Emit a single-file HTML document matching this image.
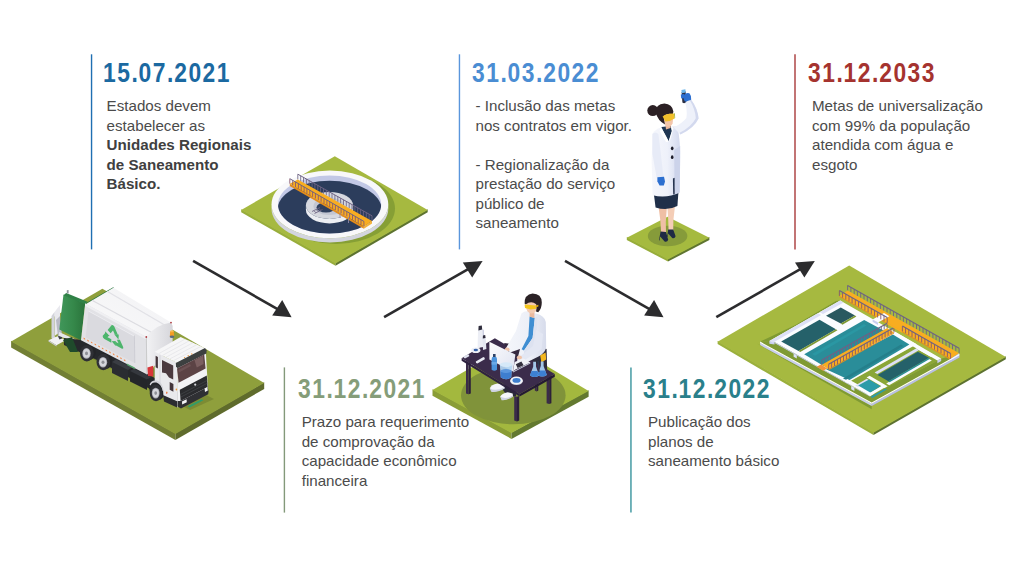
<!DOCTYPE html>
<html lang="pt-BR">
<head>
<meta charset="utf-8">
<title>Marco do Saneamento - Linha do tempo</title>
<style>
html,body{margin:0;padding:0;background:#fff;}
body{width:1024px;height:581px;position:relative;overflow:hidden;font-family:"Liberation Sans",sans-serif;}
.h{position:absolute;font-weight:bold;font-size:27.2px;line-height:26px;white-space:nowrap;transform-origin:0 0;transform:scaleX(0.84);letter-spacing:1.78px;}
.h i{font-style:normal;letter-spacing:1.0px;}
.t{position:absolute;font-size:15.15px;line-height:19.53px;color:#4b4b4b;white-space:nowrap;}
.t b{color:#404040;}
svg{position:absolute;left:0;top:0;}
</style>
</head>
<body>
<!-- illustrations, rules, arrows -->
<svg id="art" width="1024" height="581" viewBox="0 0 1024 581">
<defs>
<g id="arrowDR">
  <line x1="0" y1="0" x2="88" y2="50.3" stroke="#2c2c2e" stroke-width="2.6"/>
  <polygon points="98.5,56.3 89.1,39.1 79.1,54.7" fill="#2c2c2e"/>
</g>
<g id="arrowUR">
  <line x1="0" y1="0" x2="88" y2="-50.3" stroke="#2c2c2e" stroke-width="2.6"/>
  <polygon points="98.5,-56.3 78.7,-54.7 88.1,-39.7" fill="#2c2c2e"/>
</g>
</defs>
<g id="tank">
<polygon points="241.2,209.2 335.5,262.7 335.5,265.8 241.2,212.3" fill="#98ad3b" />
<polygon points="335.5,262.7 427.7,209.2 427.7,212.3 335.5,265.8" fill="#5d7330" />
<polygon points="241.2,209.9 334.8,156.2 427.7,209.9 335.5,263.4" fill="#a6b940" />
<ellipse cx="336.0" cy="208.5" rx="59.0" ry="35.5" fill="#869f35" />
<path d="M271.5,204.4 A58.4,33.8 0 0 0 388.3,204.4 L388.3,208.6 A58.4,33.8 0 0 1 271.5,208.6 Z" fill="#d3d5de"/>
<ellipse cx="329.9" cy="204.4" rx="58.4" ry="33.8" fill="#f8f8fa" />
<clipPath id="tankclip"><ellipse cx="329.6" cy="204.5" rx="51.6" ry="29.0"/></clipPath>
<ellipse cx="329.6" cy="204.5" rx="51.6" ry="29.0" fill="#c2c8e6" />
<g clip-path="url(#tankclip)"><ellipse cx="329.6" cy="209.7" rx="52.1" ry="29.0" fill="#2c3d5c" /></g>
<path d="M305.9,205.4 A23.6,13.5 0 0 0 353.1,205.4 L353.1,209.9 A23.6,13.5 0 0 1 305.9,209.9 Z" fill="#eceef3"/>
<ellipse cx="329.5" cy="205.4" rx="23.6" ry="13.5" fill="#d6d8df" />
<ellipse cx="329.0" cy="206.2" rx="15.5" ry="8.8" fill="#c3c6d2" />
<ellipse cx="326.0" cy="207.4" rx="9.5" ry="5.2" fill="#2f3f5e" />
<line x1="312.0" y1="211.5" x2="320.0" y2="207.5" stroke="#6a6080" stroke-width="0.8" />
<line x1="314.5" y1="213.5" x2="322.5" y2="209.5" stroke="#6a6080" stroke-width="0.8" />
<line x1="313.6" y1="210.7" x2="316.1" y2="212.7" stroke="#6a6080" stroke-width="0.7" />
<line x1="316.0" y1="209.5" x2="318.5" y2="211.5" stroke="#6a6080" stroke-width="0.7" />
<line x1="318.4" y1="208.3" x2="320.9" y2="210.3" stroke="#6a6080" stroke-width="0.7" />
<line x1="297.8" y1="179.4" x2="297.8" y2="174.2" stroke="#6d6384" stroke-width="0.85" />
<line x1="300.7" y1="181.0" x2="300.7" y2="175.8" stroke="#6d6384" stroke-width="0.85" />
<line x1="303.5" y1="182.6" x2="303.5" y2="177.4" stroke="#6d6384" stroke-width="0.85" />
<line x1="306.4" y1="184.2" x2="306.4" y2="179.0" stroke="#6d6384" stroke-width="0.85" />
<line x1="309.2" y1="185.8" x2="309.2" y2="180.6" stroke="#6d6384" stroke-width="0.85" />
<line x1="312.1" y1="187.4" x2="312.1" y2="182.2" stroke="#6d6384" stroke-width="0.85" />
<line x1="314.9" y1="189.0" x2="314.9" y2="183.8" stroke="#6d6384" stroke-width="0.85" />
<line x1="317.8" y1="190.6" x2="317.8" y2="185.4" stroke="#6d6384" stroke-width="0.85" />
<line x1="320.6" y1="192.2" x2="320.6" y2="187.0" stroke="#6d6384" stroke-width="0.85" />
<line x1="323.5" y1="193.8" x2="323.5" y2="188.6" stroke="#6d6384" stroke-width="0.85" />
<line x1="326.3" y1="195.4" x2="326.3" y2="190.2" stroke="#6d6384" stroke-width="0.85" />
<line x1="329.2" y1="197.0" x2="329.2" y2="191.8" stroke="#6d6384" stroke-width="0.85" />
<line x1="332.0" y1="198.6" x2="332.0" y2="193.4" stroke="#6d6384" stroke-width="0.85" />
<line x1="334.9" y1="200.2" x2="334.9" y2="195.0" stroke="#6d6384" stroke-width="0.85" />
<line x1="337.8" y1="201.8" x2="337.8" y2="196.6" stroke="#6d6384" stroke-width="0.85" />
<line x1="340.6" y1="203.4" x2="340.6" y2="198.2" stroke="#6d6384" stroke-width="0.85" />
<line x1="343.5" y1="205.0" x2="343.5" y2="199.8" stroke="#6d6384" stroke-width="0.85" />
<line x1="346.3" y1="206.6" x2="346.3" y2="201.4" stroke="#6d6384" stroke-width="0.85" />
<line x1="349.2" y1="208.2" x2="349.2" y2="203.0" stroke="#6d6384" stroke-width="0.85" />
<line x1="352.0" y1="209.8" x2="352.0" y2="204.6" stroke="#6d6384" stroke-width="0.85" />
<line x1="354.9" y1="211.4" x2="354.9" y2="206.2" stroke="#6d6384" stroke-width="0.85" />
<line x1="357.7" y1="213.0" x2="357.7" y2="207.8" stroke="#6d6384" stroke-width="0.85" />
<line x1="360.6" y1="214.6" x2="360.6" y2="209.4" stroke="#6d6384" stroke-width="0.85" />
<line x1="363.4" y1="216.2" x2="363.4" y2="211.0" stroke="#6d6384" stroke-width="0.85" />
<line x1="366.3" y1="217.8" x2="366.3" y2="212.6" stroke="#6d6384" stroke-width="0.85" />
<line x1="369.1" y1="219.4" x2="369.1" y2="214.2" stroke="#6d6384" stroke-width="0.85" />
<line x1="372.0" y1="221.0" x2="372.0" y2="215.8" stroke="#6d6384" stroke-width="0.85" />
<line x1="297.8" y1="174.2" x2="372.0" y2="215.8" stroke="#6d6384" stroke-width="1.0" />
<polygon points="297.8,179.4 372.0,221.0 363.9,226.4 289.8,183.7" fill="#f8ad20" />
<polygon points="289.8,183.7 363.9,226.4 363.9,228.8 289.8,186.1" fill="#e38c1a" />
<polygon points="372.0,221.0 363.9,226.4 363.9,228.8 372.0,223.4" fill="#f3b23a" />
<line x1="289.8" y1="183.7" x2="289.8" y2="178.7" stroke="#85546c" stroke-width="0.85" />
<line x1="292.7" y1="185.3" x2="292.7" y2="180.3" stroke="#85546c" stroke-width="0.85" />
<line x1="295.5" y1="187.0" x2="295.5" y2="182.0" stroke="#85546c" stroke-width="0.85" />
<line x1="298.4" y1="188.6" x2="298.4" y2="183.6" stroke="#85546c" stroke-width="0.85" />
<line x1="301.2" y1="190.3" x2="301.2" y2="185.3" stroke="#85546c" stroke-width="0.85" />
<line x1="304.1" y1="191.9" x2="304.1" y2="186.9" stroke="#85546c" stroke-width="0.85" />
<line x1="306.9" y1="193.6" x2="306.9" y2="188.6" stroke="#85546c" stroke-width="0.85" />
<line x1="309.8" y1="195.2" x2="309.8" y2="190.2" stroke="#85546c" stroke-width="0.85" />
<line x1="312.6" y1="196.8" x2="312.6" y2="191.8" stroke="#85546c" stroke-width="0.85" />
<line x1="315.4" y1="198.5" x2="315.4" y2="193.5" stroke="#85546c" stroke-width="0.85" />
<line x1="318.3" y1="200.1" x2="318.3" y2="195.1" stroke="#85546c" stroke-width="0.85" />
<line x1="321.1" y1="201.8" x2="321.1" y2="196.8" stroke="#85546c" stroke-width="0.85" />
<line x1="324.0" y1="203.4" x2="324.0" y2="198.4" stroke="#85546c" stroke-width="0.85" />
<line x1="326.9" y1="205.1" x2="326.9" y2="200.1" stroke="#85546c" stroke-width="0.85" />
<line x1="329.7" y1="206.7" x2="329.7" y2="201.7" stroke="#85546c" stroke-width="0.85" />
<line x1="332.6" y1="208.3" x2="332.6" y2="203.3" stroke="#85546c" stroke-width="0.85" />
<line x1="335.4" y1="210.0" x2="335.4" y2="205.0" stroke="#85546c" stroke-width="0.85" />
<line x1="338.2" y1="211.6" x2="338.2" y2="206.6" stroke="#85546c" stroke-width="0.85" />
<line x1="341.1" y1="213.3" x2="341.1" y2="208.3" stroke="#85546c" stroke-width="0.85" />
<line x1="343.9" y1="214.9" x2="343.9" y2="209.9" stroke="#85546c" stroke-width="0.85" />
<line x1="346.8" y1="216.5" x2="346.8" y2="211.5" stroke="#85546c" stroke-width="0.85" />
<line x1="349.6" y1="218.2" x2="349.6" y2="213.2" stroke="#85546c" stroke-width="0.85" />
<line x1="352.5" y1="219.8" x2="352.5" y2="214.8" stroke="#85546c" stroke-width="0.85" />
<line x1="355.3" y1="221.5" x2="355.3" y2="216.5" stroke="#85546c" stroke-width="0.85" />
<line x1="358.2" y1="223.1" x2="358.2" y2="218.1" stroke="#85546c" stroke-width="0.85" />
<line x1="361.0" y1="224.8" x2="361.0" y2="219.8" stroke="#85546c" stroke-width="0.85" />
<line x1="363.9" y1="226.4" x2="363.9" y2="221.4" stroke="#85546c" stroke-width="0.85" />
<line x1="289.8" y1="178.7" x2="363.9" y2="221.4" stroke="#6d6384" stroke-width="1.0" />
<line x1="348.5" y1="217.5" x2="348.5" y2="223.0" stroke="#8d86a3" stroke-width="0.9" />
<line x1="340.0" y1="213.0" x2="340.0" y2="218.0" stroke="#8d86a3" stroke-width="0.8" />
</g>
<g id="truck">
<defs><linearGradient id="hopg" x1="0" y1="0" x2="1" y2="0"><stop offset="0" stop-color="#40975a"/><stop offset="0.55" stop-color="#35884a"/><stop offset="1" stop-color="#2a733b"/></linearGradient><linearGradient id="bodytop" x1="0" y1="1" x2="1" y2="0"><stop offset="0" stop-color="#e4e4e7"/><stop offset="0.25" stop-color="#f7f7f8"/><stop offset="0.7" stop-color="#f4f4f6"/><stop offset="1" stop-color="#e2e2e6"/></linearGradient><linearGradient id="bodyfront" x1="0" y1="0" x2="1" y2="0"><stop offset="0" stop-color="#f2f2f4"/><stop offset="1" stop-color="#d6d6db"/></linearGradient></defs>
<polygon points="11.1,340.7 175.4,433.3 175.4,440.0 11.1,347.4" fill="#727f34" />
<polygon points="175.4,433.3 264.2,382.3 264.2,389.0 175.4,440.0" fill="#5f6b2c" />
<polygon points="11.1,341.4 102.4,288.8 264.2,383.0 175.4,434.0" fill="#8f9f3c" />
<polygon points="62.0,343.0 84.0,333.0 214.0,399.0 190.0,410.0" fill="#7c8b34" />
<polygon points="54.5,312.0 60.0,305.0 60.0,332.0 54.5,336.0" fill="#e9e9ee" />
<polygon points="51.5,316.0 54.5,312.0 54.5,336.0 58.0,340.0 55.0,342.0 51.5,338.0" fill="#d2d3da" />
<polygon points="56.0,320.0 60.0,316.0 62.0,335.0 58.0,337.0" fill="#b9bbc6" />
<polygon points="48.5,340.3 57.5,336.2 65.5,340.2 56.5,345.3" fill="#f1f1f4" />
<polygon points="48.5,340.3 56.5,345.3 56.5,346.6 48.5,341.6" fill="#c9cad2" />
<polygon points="58.0,336.5 62.0,334.5 62.0,338.5 59.5,339.5" fill="#3a3c42" />
<polygon points="59.0,332.0 80.0,341.5 80.0,344.0 59.0,336.0" fill="#e5e6ea" />
<polygon points="64.0,338.0 82.0,340.0 148.0,374.0 178.0,392.0 178.0,404.0 150.0,389.0 96.0,359.5 64.0,345.0" fill="#26282c" />
<polygon points="63.0,340.0 72.0,337.0 78.0,352.0 70.0,352.0" fill="#1f4a2b" />
<ellipse cx="89.0" cy="352.0" rx="6.8" ry="8.3" fill="#232428" />
<ellipse cx="86.8" cy="353.2" rx="6.8" ry="8.3" fill="#2f3035" />
<ellipse cx="86.5" cy="353.4" rx="4.2" ry="5.3" fill="#a9aab3" />
<ellipse cx="86.5" cy="353.4" rx="3.4" ry="4.3" fill="#d6d7dd" />
<ellipse cx="86.5" cy="353.4" rx="1.5" ry="1.8" fill="#8f9097" />
<ellipse cx="105.5" cy="360.8" rx="6.8" ry="8.3" fill="#232428" />
<ellipse cx="103.3" cy="362.0" rx="6.8" ry="8.3" fill="#2f3035" />
<ellipse cx="103.0" cy="362.2" rx="4.2" ry="5.3" fill="#a9aab3" />
<ellipse cx="103.0" cy="362.2" rx="3.4" ry="4.3" fill="#d6d7dd" />
<ellipse cx="103.0" cy="362.2" rx="1.5" ry="1.8" fill="#8f9097" />
<polygon points="112.0,362.0 128.0,370.0 128.0,381.0 112.0,373.0" fill="#2a2c31" />
<polygon points="112.0,362.0 116.0,359.5 132.0,367.5 128.0,370.0" fill="#3a3d43" />
<polygon points="130.0,371.0 147.0,379.5 147.0,390.0 130.0,381.5" fill="#24262a" />
<polygon points="130.0,371.0 134.0,368.8 151.0,377.2 147.0,379.5" fill="#35383e" />
<polygon points="63.5,294.5 85.2,303.5 81.0,340.2 59.3,329.4" fill="url(#hopg)" />
<polygon points="63.5,295.2 66.2,292.9 87.5,301.8 85.2,304.2" fill="#2f8146" />
<polygon points="85.2,303.5 113.2,287.2 114.0,288.0 86.2,304.3" fill="#2d7a40" />
<polygon points="66.8,290.2 68.6,290.0 68.6,293.6 66.8,293.2" fill="#8d9399" />
<polygon points="85.2,304.6 113.5,287.8 171.1,322.4 146.2,338.2" fill="url(#bodytop)" />
<line x1="92.0" y1="300.2" x2="153.0" y2="333.3" stroke="#dcdce1" stroke-width="1.2" />
<line x1="107.5" y1="291.5" x2="165.5" y2="325.6" stroke="#e1e1e6" stroke-width="1.2" />
<polygon points="85.2,303.5 146.2,337.0 147.0,374.5 81.0,340.2" fill="#e2e2e6" />
<polygon points="85.2,303.5 146.2,337.0 146.2,339.4 85.0,305.8" fill="#efeff2" />
<polygon points="88.6,310.5 134.2,335.6 134.6,363.0 85.6,337.2" fill="#dadadf" />
<polygon points="88.6,310.5 134.2,335.6 134.2,336.6 88.5,311.5" fill="#ededf1" />
<line x1="134.4" y1="335.6" x2="134.8" y2="363.0" stroke="#c9c9d0" stroke-width="0.8" />
<rect x="83.6" y="338.0" width="1.5" height="1.3" fill="#f08a4a" transform="skewY(28)" style="transform-box:fill-box;transform-origin:center"/>
<rect x="87.3" y="340.0" width="1.5" height="1.3" fill="#f08a4a" transform="skewY(28)" style="transform-box:fill-box;transform-origin:center"/>
<rect x="90.9" y="341.9" width="1.5" height="1.3" fill="#f08a4a" transform="skewY(28)" style="transform-box:fill-box;transform-origin:center"/>
<rect x="94.6" y="343.9" width="1.5" height="1.3" fill="#f08a4a" transform="skewY(28)" style="transform-box:fill-box;transform-origin:center"/>
<rect x="98.3" y="345.9" width="1.5" height="1.3" fill="#f08a4a" transform="skewY(28)" style="transform-box:fill-box;transform-origin:center"/>
<rect x="101.9" y="347.8" width="1.5" height="1.3" fill="#f08a4a" transform="skewY(28)" style="transform-box:fill-box;transform-origin:center"/>
<rect x="105.6" y="349.8" width="1.5" height="1.3" fill="#f08a4a" transform="skewY(28)" style="transform-box:fill-box;transform-origin:center"/>
<rect x="109.2" y="351.7" width="1.5" height="1.3" fill="#f08a4a" transform="skewY(28)" style="transform-box:fill-box;transform-origin:center"/>
<rect x="112.9" y="353.7" width="1.5" height="1.3" fill="#f08a4a" transform="skewY(28)" style="transform-box:fill-box;transform-origin:center"/>
<rect x="116.6" y="355.7" width="1.5" height="1.3" fill="#f08a4a" transform="skewY(28)" style="transform-box:fill-box;transform-origin:center"/>
<rect x="120.2" y="357.6" width="1.5" height="1.3" fill="#f08a4a" transform="skewY(28)" style="transform-box:fill-box;transform-origin:center"/>
<rect x="123.9" y="359.6" width="1.5" height="1.3" fill="#f08a4a" transform="skewY(28)" style="transform-box:fill-box;transform-origin:center"/>
<polygon points="126.8,363.4 134.8,367.6 134.8,369.2 126.8,365.0" fill="#5aa770" />
<g transform="translate(113.0,335.6) skewY(29) scale(0.84)" fill="none" stroke="#4db56c" stroke-width="4.1" stroke-linejoin="round" stroke-linecap="butt"><path d="M-4.6,-2.2 L0,-10.2 L4.0,-3.2"/><path d="M6.4,1.4 L10.2,7.6 L2.6,7.6"/><path d="M-2.0,7.6 L-10.2,7.6 L-6.8,1.8"/><g fill="#4db56c" stroke="none"><path d="M1.6,-2.2 L6.8,-5.0 L6.6,1.0 Z"/><path d="M3.2,4.6 L3.2,10.6 L-1.6,7.6 Z"/><path d="M-9.6,0.0 L-4.0,2.6 L-8.6,5.4 Z"/></g></g>
<path d="M146.2,337.0 Q155.5,324.4 171.1,322.4 L172.6,326 L172.6,345 L147.0,374.5 Z" fill="url(#bodyfront)"/>
<line x1="146.3" y1="337.2" x2="147.0" y2="374.3" stroke="#c8c8ce" stroke-width="0.9" />
<ellipse cx="146.3" cy="337.0" rx="0.9" ry="0.9" fill="#b03a3f" />
<ellipse cx="171.0" cy="322.6" rx="0.9" ry="0.9" fill="#b03a3f" />
<polygon points="147.4,367.6 153.2,365.8 153.2,376.6 148.0,376.0" fill="#d8363a" />
<polygon points="170.2,331.2 173.8,331.2 174.2,336.6 169.8,336.6" fill="#f59d22" />
<ellipse cx="172.0" cy="331.2" rx="1.8" ry="1.0" fill="#f8b94a" />
<ellipse cx="172.0" cy="336.8" rx="2.3" ry="1.2" fill="#5c6b7a" />
<polygon points="147.0,379.0 158.0,379.0 165.0,388.0 165.0,396.0 150.0,392.0" fill="#25272b" />
<ellipse cx="158.2" cy="391.7" rx="6.3" ry="8.4" fill="#232428" />
<ellipse cx="156.0" cy="392.9" rx="6.3" ry="8.4" fill="#2f3035" />
<ellipse cx="155.7" cy="393.1" rx="3.9" ry="5.4" fill="#a9aab3" />
<ellipse cx="155.7" cy="393.1" rx="3.1" ry="4.4" fill="#d6d7dd" />
<ellipse cx="155.7" cy="393.1" rx="1.4" ry="1.8" fill="#8f9097" />
<polygon points="163.0,394.8 177.1,401.0 177.1,407.6 164.0,401.4" fill="#2b2c30" />
<polygon points="154.7,351.7 177.1,362.7 177.1,401.2 163.4,395.2 163.0,389.5 160.4,384.0 156.4,381.4 154.7,381.0" fill="#e9e9ec" />
<ellipse cx="166.7" cy="392.9" rx="0.7" ry="0.8" fill="#e0474a" />
<path d="M149.6,384.6 Q151.4,379.6 157.0,380.6 Q162.6,382.2 163.6,391.0 L162.6,391.0 Q161.4,384.4 156.4,382.6 Q152.0,381.6 150.6,385.4 Z" fill="#d4d4da"/>
<polygon points="177.1,362.7 205.6,348.6 208.1,390.9 177.1,407.5" fill="#f2f2f4" />
<polygon points="154.7,351.7 180.6,337.0 205.6,348.4 177.1,362.9" fill="#f6f6f7" />
<line x1="158.7" y1="353.7" x2="185.1" y2="339.1" stroke="#e2e2e6" stroke-width="0.7" />
<line x1="162.3" y1="355.5" x2="189.1" y2="340.9" stroke="#e2e2e6" stroke-width="0.7" />
<line x1="165.9" y1="357.3" x2="193.1" y2="342.7" stroke="#e2e2e6" stroke-width="0.7" />
<line x1="169.5" y1="359.1" x2="197.1" y2="344.5" stroke="#e2e2e6" stroke-width="0.7" />
<line x1="173.1" y1="360.9" x2="201.1" y2="346.3" stroke="#e2e2e6" stroke-width="0.7" />
<ellipse cx="184.6" cy="357.6" rx="0.7" ry="0.7" fill="#f0963c" />
<ellipse cx="188.2" cy="355.8" rx="0.7" ry="0.7" fill="#f0963c" />
<ellipse cx="191.8" cy="354.0" rx="0.7" ry="0.7" fill="#f0963c" />
<polygon points="175.8,362.9 205.0,348.0 206.6,350.2 206.4,353.4 177.6,368.2 176.0,366.4" fill="#3c4040" />
<polygon points="177.0,368.6 204.2,354.4 205.6,368.4 178.6,382.8" fill="#5c4345" />
<polygon points="194.5,360.2 203.0,355.8 203.6,364.0 196.8,367.6" fill="#7b5f60" />
<polygon points="178.4,370.0 190.0,364.0 191.0,366.0 179.0,372.4" fill="#6c5254" />
<polygon points="179.8,389.8 206.8,375.6 207.6,387.0 180.6,401.0" fill="#2a2b2e" />
<polygon points="177.6,401.0 180.6,401.0 207.6,387.0 208.6,391.0 208.2,394.2 181.0,408.4 177.4,406.6" fill="#2f3034" />
<line x1="181.0" y1="394.2" x2="207.2" y2="380.4" stroke="#44464b" stroke-width="0.7" />
<line x1="181.0" y1="397.0" x2="207.4" y2="383.2" stroke="#44464b" stroke-width="0.7" />
<ellipse cx="195.2" cy="384.6" rx="1.0" ry="1.2" fill="#d9dade" />
<polygon points="182.0,401.6 186.6,399.2 186.8,402.2 182.2,404.6" fill="#f4f4f6" />
<polygon points="204.6,388.6 207.4,387.0 207.8,390.4 205.0,392.0" fill="#f4f4f6" />
<polygon points="162.0,360.0 173.2,365.6 173.2,379.6 169.0,377.4 166.0,373.2 162.0,372.6" fill="#4b3a3f" />
<polygon points="155.6,355.8 157.9,357.0 157.9,368.4 155.6,367.2" fill="#43353a" />
<polygon points="169.7,382.0 173.4,384.0 173.4,391.8 169.7,389.8" fill="#43353a" />
<line x1="160.0" y1="355.2" x2="160.0" y2="383.0" stroke="#cfcfd5" stroke-width="0.7" />
<ellipse cx="176.4" cy="389.6" rx="0.8" ry="1.0" fill="#f0963c" />
<ellipse cx="166.8" cy="392.4" rx="0.6" ry="0.8" fill="#f0963c" />
<polygon points="187.6,406.2 201.6,399.2 203.4,400.2 189.6,407.4" fill="#2f9c6a" />
</g>
<g id="desk">
<defs><linearGradient id="coatg" x1="0" y1="0" x2="1" y2="0"><stop offset="0" stop-color="#f4f6fb"/><stop offset="0.6" stop-color="#eceff7"/><stop offset="1" stop-color="#d6dbeb"/></linearGradient><linearGradient id="lapg" x1="0" y1="0" x2="1" y2="1"><stop offset="0" stop-color="#fbfbfd"/><stop offset="1" stop-color="#dfe3f1"/></linearGradient></defs>
<polygon points="432.5,389.2 511.5,432.4 511.5,438.9 432.5,395.7" fill="#8a9d36" />
<polygon points="511.5,432.4 588.6,390.2 588.6,396.7 511.5,438.9" fill="#637930" />
<polygon points="432.5,389.9 510.6,344.6 588.6,390.9 511.5,433.1" fill="#a3b83e" />
<ellipse cx="513.3" cy="395.3" rx="52.3" ry="29.0" fill="#80933a" />
<polygon points="534.0,345.0 546.6,349.0 547.2,372.0 535.0,382.0 528.0,378.0" fill="#2d2b3c" />
<polygon points="534.8,378.0 536.7,378.8 536.7,391.5 534.8,390.6" fill="#3a2b49" /><polygon points="536.7,378.8 538.3,378.0 538.3,390.6 536.7,391.5" fill="#2c2039" />
<polygon points="546.6,375.0 549.2,375.8 549.2,404.1 546.6,403.2" fill="#3a2b49" /><polygon points="549.2,375.8 551.4,375.0 551.4,403.2 549.2,404.1" fill="#2c2039" />
<polygon points="505.0,381.0 516.0,386.0 516.0,396.0 508.0,397.0 503.0,390.0" fill="#2b2a3a" />
<path d="M489.8,388.2 Q491,384.6 497.5,383.4 L503.6,384.4 L505,387.2 Q499,391.4 492.2,391.6 Z" fill="#f5f6fa"/>
<path d="M500.2,396.6 Q501.6,393.4 507.6,392.2 L512.6,393.4 L513.0,395.8 Q507.8,399.8 502.2,399.8 Z" fill="#f5f6fa"/>
<path d="M489.8,388.2 Q495,391.8 505,387.2 L505,388.2 Q498,392.8 491.2,391.8 Z" fill="#cfd3e2"/>
<path d="M500.2,396.6 Q505,399.6 513,395.8 L513,396.8 Q507,400.8 501.6,400.2 Z" fill="#cfd3e2"/>
<polygon points="466.0,361.0 468.6,361.8 468.6,394.3 466.0,393.4" fill="#3a2b49" /><polygon points="468.6,361.8 470.8,361.0 470.8,393.4 468.6,394.3" fill="#2c2039" />
<polygon points="461.6,358.2 519.7,394.0 519.7,396.6 461.6,360.8" fill="#2e2240" />
<polygon points="519.7,394.0 554.8,374.1 554.8,376.7 519.7,396.6" fill="#241a33" />
<polygon points="461.6,358.2 494.9,338.3 554.8,374.1 519.7,394.0" fill="#3b2c4b" />
<polygon points="514.2,396.0 517.0,396.8 517.0,421.5 514.2,420.6" fill="#3a2b49" /><polygon points="517.0,396.8 519.2,396.0 519.2,420.6 517.0,421.5" fill="#2c2039" />
<polygon points="504.0,343.0 523.0,345.0 526.0,358.0 511.0,357.0" fill="#34283f" />
<path d="M521.4,313.4 Q526,309.6 531.5,312.6 L536,313.6 Q544.6,315.8 545.8,322 L546.2,347 Q545.4,353 538.5,356.5 L523,364.2 L517,360.5 L520,349 L510,352.5 L506,348 L516,331 Z" fill="url(#coatg)"/>
<polygon points="529.6,316.6 534.8,318.0 532.6,338.0 524.0,350.6 521.6,349.2 528.4,336.0" fill="#3f8ed2" />
<polygon points="534.8,318.0 537.6,316.4 536.4,340.0 531.6,352.0 524.0,355.6 524.0,350.6 532.6,338.0" fill="#dde2f0" />
<polygon points="529.6,311.0 534.4,312.0 534.4,318.0 529.6,316.8" fill="#eab99f" />
<ellipse cx="531.6" cy="306.6" rx="5.6" ry="7.0" fill="#f3cbb2" />
<path d="M524.6,303.6 Q524.2,294.4 532.6,293.4 Q541.6,293.6 541.8,302.4 Q541.8,308.6 538.2,312.2 L536.0,311.6 Q537.0,307.6 536.2,304.2 Q531,300.2 525.6,304.6 Z" fill="#2b2226"/>
<polygon points="524.6,304.4 535.4,305.4 536.2,308.8 530.6,309.4 525.0,308.0" fill="#f4c51c" />
<polygon points="535.4,305.4 538.4,304.8 538.4,306.4 536.0,307.4" fill="#d9a614" />
<path d="M536,330 L543,334 L541.5,349 L525,360.0 L519.5,357.0 L533,346 Z" fill="#e3e7f3"/>
<polygon points="540.2,355.6 545.6,352.6 546.2,359.6 541.4,362.4" fill="#f4b71f" />
<ellipse cx="519.4" cy="357.4" rx="2.6" ry="2.0" fill="#f0c3a8" />
<ellipse cx="507.2" cy="349.4" rx="2.4" ry="1.8" fill="#f0c3a8" />
<polygon points="489.4,341.7 515.4,354.6 513.0,371.4 489.4,359.6" fill="url(#lapg)" />
<polygon points="513.0,371.4 515.4,369.6 530.4,362.6 523.4,358.6 514.6,362.0" fill="#f1f2f8" />
<polygon points="515.8,364.2 521.4,361.6 523.6,365.2 517.6,368.0" fill="#34303f" />
<polygon points="513.0,371.4 530.4,362.6 530.4,363.6 513.0,372.6" fill="#c9cede" />
<polygon points="478.0,330.0 482.4,329.0 483.2,347.0 477.6,348.0" fill="#eceef5" />
<polygon points="482.4,329.0 483.8,330.0 484.6,346.4 483.2,347.0" fill="#c8cce0" />
<polygon points="478.6,326.0 481.8,325.4 482.2,329.6 478.4,330.4" fill="#2f2d3c" />
<polygon points="482.6,338.0 485.6,337.2 486.4,349.0 483.0,350.0" fill="#e4e7f1" />
<polygon points="483.0,335.4 485.2,335.0 485.6,338.0 482.8,338.6" fill="#2f2d3c" />
<ellipse cx="475.8" cy="350.2" rx="4.6" ry="2.8" fill="#eef0f6" />
<ellipse cx="475.8" cy="350.0" rx="2.2" ry="1.3" fill="#3a63a8" />
<path d="M475.8,361.6 L483.4,357.0 Q485.2,357.2 484.8,359.2 L477.4,363.6 Q475.6,363.4 475.8,361.6 Z" fill="#e8eaf3"/>
<path d="M463.6,356.6 L468,354.2 Q469.6,354.6 469.2,356.2 L465,358.6 Q463.4,358.2 463.6,356.6 Z" fill="#dfe2ee"/>
<path d="M491.6,359.4 Q491.6,357.2 493.0,356.8 L495.6,356.8 Q497.0,357.2 497.0,359.4 L497.0,369.8 Q494.4,371.6 491.6,369.8 Z" fill="#4b93dc"/>
<polygon points="493.0,354.0 495.6,354.0 495.6,357.0 493.0,357.0" fill="#2d4268" />
<polygon points="491.6,362.0 497.0,362.0 497.0,364.6 491.6,364.6" fill="#6aa8e6" />
<path d="M499.8,364.6 L512.2,364.6 L511.2,377.6 Q506,380.8 500.8,377.6 Z" fill="#b5d6f2" fill-opacity="0.92"/>
<path d="M500.4,371.0 Q506,373.4 511.6,371.0 L511.2,377.6 Q506,380.8 500.8,377.6 Z" fill="#3e7ecf"/>
<ellipse cx="506.0" cy="364.6" rx="6.2" ry="2.4" fill="#d5e8f8" />
<ellipse cx="506.0" cy="371.0" rx="5.6" ry="1.9" fill="#5c97dd" />
<ellipse cx="516.5" cy="381.2" rx="6.2" ry="3.9" fill="#cdd2e2" />
<ellipse cx="516.5" cy="380.4" rx="6.2" ry="3.9" fill="#f3f4f9" />
<ellipse cx="516.5" cy="380.4" rx="4.0" ry="2.4" fill="#3f7fd0" />
<path d="M533.2,361.8 L536.0,361.8 L536.0,366.4 L539.2,375.4 Q534.6,378.6 530.0,375.4 L533.2,366.4 Z" fill="#a9cff0" fill-opacity="0.95"/>
<path d="M531.6,371.0 L537.6,371.0 L539.2,375.4 Q534.6,378.6 530.0,375.4 Z" fill="#3d80d2"/>
<path d="M540.8000000000001,361.40000000000003 L543.6,361.40000000000003 L543.6,366.0 L546.8000000000001,375.0 Q542.2,378.20000000000005 537.6,375.0 L540.8000000000001,366.0 Z" fill="#a9cff0" fill-opacity="0.95"/>
<path d="M539.2,370.6 L545.2,370.6 L546.8000000000001,375.0 Q542.2,378.20000000000005 537.6,375.0 Z" fill="#3d80d2"/>
<line x1="538.0" y1="361.0" x2="539.2" y2="372.0" stroke="#2d3e5c" stroke-width="0.9" />
</g>
<g id="woman">
<defs><linearGradient id="wcoat" x1="0" y1="0" x2="1" y2="0"><stop offset="0" stop-color="#f6f7fc"/><stop offset="0.55" stop-color="#eef1fa"/><stop offset="1" stop-color="#d3d9ee"/></linearGradient></defs>
<polygon points="626.8,237.0 668.0,258.7 668.0,261.6 626.8,239.9" fill="#97ad3a" />
<polygon points="668.0,258.7 709.4,237.0 709.4,239.9 668.0,261.6" fill="#5f7530" />
<polygon points="626.8,237.7 667.5,216.7 709.4,237.7 668.0,259.4" fill="#a5ba3f" />
<ellipse cx="667.6" cy="236.0" rx="19.8" ry="10.2" fill="#869b3a" />
<path d="M658.6,207 L666.8,208 L665.8,222 L666.0,233.4 L661.2,233.4 L660.4,221 Z" fill="#efbfa5"/>
<path d="M667.4,207 L675.0,206 L673.4,220 L673.2,231 L668.6,231 L668.2,219 Z" fill="#f4cdb6"/>
<path d="M660.6,231.6 L666.0,232.0 L668.2,239.8 Q667.4,242.4 664.6,241.6 L660.2,236.4 L659.6,240.4 L659.0,240.2 Z" fill="#1f2a44"/>
<path d="M668.2,229.4 L673.2,229.6 L675.6,236.2 Q674.8,238.8 672.2,238.0 L668.2,233.6 L667.8,237.0 L667.2,236.8 Z" fill="#1f2a44"/>
<path d="M653.9,194.6 L678.4,192.6 L677.4,206.0 Q667,211.4 655.6,207.4 Z" fill="#1f2f49"/>
<path d="M652.6,133.4 Q655,129.6 661.0,127.6 L672.6,126.6 L677.4,126.4 Q680.4,140 680.2,160 L679.6,192.4 Q667,198.6 652.6,195.2 L651.6,160 Z" fill="url(#wcoat)"/>
<path d="M674.2,150 L680.2,146 L679.6,192.4 L674.6,194.2 Z" fill="#ccd3ea"/>
<polygon points="672.9,178.4 674.6,177.8 674.7,194.3 673.2,194.4" fill="#26334f" />
<polygon points="661.4,127.0 670.6,126.0 672.0,131.0 668.6,141.2 664.6,134.0" fill="#1f3652" />
<polygon points="660.8,127.2 664.8,133.8 668.8,141.6 666.0,142.0 659.6,131.0" fill="#ffffff" />
<polygon points="671.0,126.0 673.4,128.0 670.6,139.0 668.7,141.4 671.8,131.0" fill="#ffffff" />
<ellipse cx="672.2" cy="148.3" rx="1.3" ry="1.9" fill="#1d1d2b" />
<ellipse cx="672.2" cy="157.2" rx="1.3" ry="1.9" fill="#1d1d2b" />
<path d="M652.4,134.0 Q655.4,131.0 658.4,134.0 L660.4,150 L663.6,177.4 L656.8,178.2 L652.4,154 Z" fill="#e7ebf7"/>
<path d="M657.4,177.2 L664.0,176.8 L665.0,181.4 L663.8,185.6 L659.6,185.6 L657.4,181.4 Z" fill="#2c6fd0"/>
<polygon points="665.0,122.0 670.6,121.4 670.6,128.0 666.0,129.4" fill="#eab79c" />
<path d="M663.0,113.4 L672.4,112.6 Q673.8,118 672.6,123.6 Q670.4,127.6 666.4,126.6 Q663.0,122.4 663.0,113.4 Z" fill="#f3c6ab"/>
<ellipse cx="652.8" cy="110.6" rx="5.5" ry="5.5" fill="#2b2024" />
<path d="M655.6,112.6 Q655.6,103.6 664.4,103.4 Q672.2,103.8 673.4,111.4 L672.8,114.2 Q667.6,112.8 664.0,116.0 Q663.6,120.6 665.0,124.4 Q658.0,121.2 655.6,112.6 Z" fill="#2b2024"/>
<path d="M662.6,116.4 Q667,113.2 673.8,113.6 L674.6,118.4 Q670.4,121.4 665.4,121.4 Z" fill="#f2bf2c"/>
<polygon points="673.8,113.6 674.9,113.3 675.2,118.0 674.6,118.4" fill="#a8b73c" />
<path d="M673.6,127.6 Q683,122.6 686.4,118.0 Q687.6,109 684.8,101.8 L691.0,99.4 Q697.6,108 698.6,118.6 Q694,128.4 680.4,134.6 Z" fill="#eef1fa"/>
<path d="M689.6,100.0 L691.0,99.4 Q697.6,108 698.6,118.6 Q694,128.4 680.4,134.6 L679.6,132.8 Q691.6,126.6 695.8,118.2 Q695.2,109 689.6,100.0 Z" fill="#d3d9ee"/>
<path d="M681.6,92.0 L685.6,91.2 L686.4,101.6 Q684.6,104.2 682.4,102.4 Z" fill="#2a2f45"/>
<polygon points="681.4,90.0 685.4,89.2 685.7,92.4 681.7,93.2" fill="#6cb6ea" />
<path d="M683.6,95.2 Q686,92.2 689.4,93.2 Q691.6,95.6 691.2,99.8 L685.4,101.8 Q682.8,99.4 683.6,95.2 Z" fill="#2c6fd0"/>
<polygon points="680.8,94.6 684.0,94.0 684.2,98.0 681.2,98.4" fill="#2c6fd0" />
</g>
<g id="plant">
<polygon points="717.6,341.0 873.5,432.0 873.5,435.1 717.6,344.1" fill="#9bb03c" />
<polygon points="873.5,432.0 1005.8,356.2 1005.8,359.3 873.5,435.1" fill="#5d7230" />
<polygon points="717.6,341.7 849.2,265.5 1005.8,356.9 873.5,432.7" fill="#a6b940" />
<polygon points="760.1,341.6 795.4,325.0 836.0,301.0 840.2,300.5 769.4,340.9" fill="#7f9a33" />
<polygon points="760.1,341.6 769.4,340.9 774.5,342.0 870.3,395.9 941.6,358.4 959.4,354.0 871.7,402.5" fill="#7f9a33" />
<polygon points="760.1,345.1 871.7,406.0 871.7,409.3 757.0,343.6" fill="#7f9a33" />
<line x1="847.6" y1="290.5" x2="847.6" y2="285.4" stroke="#6d6384" stroke-width="0.9" />
<line x1="850.9" y1="292.3" x2="850.9" y2="287.2" stroke="#6d6384" stroke-width="0.9" />
<line x1="854.2" y1="294.2" x2="854.2" y2="289.1" stroke="#6d6384" stroke-width="0.9" />
<line x1="857.4" y1="296.0" x2="857.4" y2="290.9" stroke="#6d6384" stroke-width="0.9" />
<line x1="860.7" y1="297.9" x2="860.7" y2="292.8" stroke="#6d6384" stroke-width="0.9" />
<line x1="864.0" y1="299.7" x2="864.0" y2="294.6" stroke="#6d6384" stroke-width="0.9" />
<line x1="867.3" y1="301.6" x2="867.3" y2="296.5" stroke="#6d6384" stroke-width="0.9" />
<line x1="870.6" y1="303.4" x2="870.6" y2="298.3" stroke="#6d6384" stroke-width="0.9" />
<line x1="873.8" y1="305.3" x2="873.8" y2="300.2" stroke="#6d6384" stroke-width="0.9" />
<line x1="877.1" y1="307.1" x2="877.1" y2="302.0" stroke="#6d6384" stroke-width="0.9" />
<line x1="880.4" y1="309.0" x2="880.4" y2="303.9" stroke="#6d6384" stroke-width="0.9" />
<line x1="883.7" y1="310.8" x2="883.7" y2="305.7" stroke="#6d6384" stroke-width="0.9" />
<line x1="887.0" y1="312.7" x2="887.0" y2="307.6" stroke="#6d6384" stroke-width="0.9" />
<line x1="890.2" y1="314.5" x2="890.2" y2="309.4" stroke="#6d6384" stroke-width="0.9" />
<line x1="893.5" y1="316.4" x2="893.5" y2="311.3" stroke="#6d6384" stroke-width="0.9" />
<line x1="896.8" y1="318.2" x2="896.8" y2="313.1" stroke="#6d6384" stroke-width="0.9" />
<line x1="900.1" y1="320.1" x2="900.1" y2="315.0" stroke="#6d6384" stroke-width="0.9" />
<line x1="903.4" y1="321.9" x2="903.4" y2="316.8" stroke="#6d6384" stroke-width="0.9" />
<line x1="906.6" y1="323.7" x2="906.6" y2="318.6" stroke="#6d6384" stroke-width="0.9" />
<line x1="909.9" y1="325.6" x2="909.9" y2="320.5" stroke="#6d6384" stroke-width="0.9" />
<line x1="913.2" y1="327.4" x2="913.2" y2="322.3" stroke="#6d6384" stroke-width="0.9" />
<line x1="916.5" y1="329.3" x2="916.5" y2="324.2" stroke="#6d6384" stroke-width="0.9" />
<line x1="919.7" y1="331.1" x2="919.7" y2="326.0" stroke="#6d6384" stroke-width="0.9" />
<line x1="923.0" y1="333.0" x2="923.0" y2="327.9" stroke="#6d6384" stroke-width="0.9" />
<line x1="926.3" y1="334.8" x2="926.3" y2="329.7" stroke="#6d6384" stroke-width="0.9" />
<line x1="929.6" y1="336.7" x2="929.6" y2="331.6" stroke="#6d6384" stroke-width="0.9" />
<line x1="932.9" y1="338.5" x2="932.9" y2="333.4" stroke="#6d6384" stroke-width="0.9" />
<line x1="936.1" y1="340.4" x2="936.1" y2="335.3" stroke="#6d6384" stroke-width="0.9" />
<line x1="939.4" y1="342.2" x2="939.4" y2="337.1" stroke="#6d6384" stroke-width="0.9" />
<line x1="942.7" y1="344.1" x2="942.7" y2="339.0" stroke="#6d6384" stroke-width="0.9" />
<line x1="946.0" y1="345.9" x2="946.0" y2="340.8" stroke="#6d6384" stroke-width="0.9" />
<line x1="949.3" y1="347.8" x2="949.3" y2="342.7" stroke="#6d6384" stroke-width="0.9" />
<line x1="952.5" y1="349.6" x2="952.5" y2="344.5" stroke="#6d6384" stroke-width="0.9" />
<line x1="955.8" y1="351.5" x2="955.8" y2="346.4" stroke="#6d6384" stroke-width="0.9" />
<line x1="959.1" y1="353.3" x2="959.1" y2="348.2" stroke="#6d6384" stroke-width="0.9" />
<line x1="847.6" y1="285.4" x2="959.1" y2="348.2" stroke="#6d6384" stroke-width="1.1" />
<polygon points="847.6,290.5 959.1,353.3 950.6,358.7 839.4,295.9" fill="#f8ad20" />
<polygon points="839.4,295.9 950.6,358.7 950.6,359.9 839.4,297.1" fill="#e58f1c" />
<polygon points="959.1,353.3 950.6,358.7 950.6,361.9 959.1,356.5" fill="#c8cdef" />
<polygon points="760.1,342.8 871.7,403.7 871.7,406.0 760.1,345.1" fill="#c8cdef" />
<polygon points="871.7,403.7 959.4,355.2 959.4,357.5 871.7,406.0" fill="#b9bfe6" />
<polygon points="760.1,341.6 871.7,402.5 959.4,354.0 959.4,355.3 871.7,403.8 760.1,342.9" fill="#fbfcff" />
<polygon points="847.0,382.9 916.7,344.2 941.6,358.4 870.3,395.9" fill="#8aa637" />
<polygon points="769.4,340.9 840.2,300.5 916.7,344.2 847.0,382.9 774.5,342.0" fill="#fbfcff" />
<polygon points="769.4,340.9 774.5,342.0 774.5,344.6 769.4,343.7" fill="#c8cdef" />
<polygon points="774.5,342.0 870.3,395.9 870.3,396.8 774.5,342.9" fill="#c8cdef" />
<polygon points="793.6,353.6 796.8,355.4 796.8,358.6 793.6,356.8" fill="#dde0f7" />
<polygon points="851.2,386.0 854.4,387.8 854.4,391.0 851.2,389.2" fill="#dde0f7" />
<polygon points="769.4,340.9 817.8,313.2 821.2,315.1 772.8,342.8" fill="#dde0f7" />
<polygon points="819.6,312.2 840.2,300.5 843.6,302.4 823.0,314.1" fill="#dde0f7" />
<polygon points="845.0,381.8 870.3,395.9 874.3,393.6 849.0,379.5" fill="#fbfcff" />
<polygon points="890.5,333.5 937.4,360.6 941.2,358.4 894.3,331.3" fill="#fbfcff" />
<polygon points="937.4,360.6 941.2,358.4 941.2,361.0 937.4,363.2" fill="#c8cdef" />
<polygon points="872.6,319.4 884.0,313.0 889.4,316.2 878.0,322.6" fill="#fbfcff" />
<polygon points="872.6,319.4 878.0,322.6 878.0,325.0 872.6,321.8" fill="#c8cdef" />
<polygon points="874.6,372.4 916.0,348.6 918.8,350.2 877.4,374.0" fill="#dde0f7" />
<polygon points="886.2,383.4 928.8,358.8 931.8,360.6 889.2,385.2" fill="#fbfcff" />
<polygon points="916.0,348.4 930.6,356.8 933.3,355.3 918.7,346.9" fill="#fbfcff" />
<polygon points="855.2,385.4 866.8,378.8 869.6,380.4 858.0,387.0" fill="#dde0f7" />
<polygon points="866.6,377.6 884.6,388.0 887.6,386.2 869.6,375.8" fill="#fbfcff" />
<polygon points="867.2,394.2 883.0,385.0 886.0,386.8 870.2,396.0" fill="#fbfcff" />
<polygon points="781.2,341.6 819.5,319.7 835.9,329.2 798.5,350.9" fill="#25616a" />
<polygon points="798.5,350.9 835.9,329.2 837.5,330.3 800.3,352.1" fill="#7d9833" />
<polygon points="826.0,315.8 840.8,307.4 855.0,315.4 840.8,323.6" fill="#2a5960" />
<polygon points="840.8,323.6 855.0,315.4 856.4,316.4 842.4,324.8" fill="#7d9833" />
<polygon points="804.2,354.2 864.2,320.0 884.6,331.0 824.0,366.2" fill="#2a8d99" />
<polygon points="812.0,354.0 864.0,324.0 866.4,325.6 815.0,355.8" fill="#2a97a3" />
<polygon points="826.0,369.2 892.9,334.4 909.4,344.6 849.6,380.0" fill="#2a8d99" />
<polygon points="843.0,378.4 901.0,344.6 903.4,346.0 846.0,379.8" fill="#257f8b" />
<polygon points="877.6,375.0 917.8,351.8 929.0,357.8 888.4,381.2" fill="#25616a" />
<polygon points="888.4,381.2 929.0,357.8 930.0,358.8 889.6,382.2" fill="#2a8d99" />
<polygon points="858.2,385.6 869.0,379.6 880.6,386.2 870.2,392.6" fill="#2c9ba9" />
<polygon points="870.8,396.6 885.4,388.4 886.8,389.6 872.0,398.2" fill="#2c9ba9" />
<line x1="821.8" y1="364.8" x2="821.8" y2="360.1" stroke="#6d6384" stroke-width="0.9" />
<line x1="824.8" y1="363.1" x2="824.8" y2="358.4" stroke="#6d6384" stroke-width="0.9" />
<line x1="827.7" y1="361.4" x2="827.7" y2="356.7" stroke="#6d6384" stroke-width="0.9" />
<line x1="830.7" y1="359.8" x2="830.7" y2="355.1" stroke="#6d6384" stroke-width="0.9" />
<line x1="833.7" y1="358.1" x2="833.7" y2="353.4" stroke="#6d6384" stroke-width="0.9" />
<line x1="836.7" y1="356.4" x2="836.7" y2="351.7" stroke="#6d6384" stroke-width="0.9" />
<line x1="839.6" y1="354.7" x2="839.6" y2="350.0" stroke="#6d6384" stroke-width="0.9" />
<line x1="842.6" y1="353.1" x2="842.6" y2="348.4" stroke="#6d6384" stroke-width="0.9" />
<line x1="845.6" y1="351.4" x2="845.6" y2="346.7" stroke="#6d6384" stroke-width="0.9" />
<line x1="848.6" y1="349.7" x2="848.6" y2="345.0" stroke="#6d6384" stroke-width="0.9" />
<line x1="851.5" y1="348.0" x2="851.5" y2="343.3" stroke="#6d6384" stroke-width="0.9" />
<line x1="854.5" y1="346.4" x2="854.5" y2="341.7" stroke="#6d6384" stroke-width="0.9" />
<line x1="857.5" y1="344.7" x2="857.5" y2="340.0" stroke="#6d6384" stroke-width="0.9" />
<line x1="860.4" y1="343.0" x2="860.4" y2="338.3" stroke="#6d6384" stroke-width="0.9" />
<line x1="863.4" y1="341.3" x2="863.4" y2="336.6" stroke="#6d6384" stroke-width="0.9" />
<line x1="866.4" y1="339.6" x2="866.4" y2="334.9" stroke="#6d6384" stroke-width="0.9" />
<line x1="869.4" y1="338.0" x2="869.4" y2="333.3" stroke="#6d6384" stroke-width="0.9" />
<line x1="872.3" y1="336.3" x2="872.3" y2="331.6" stroke="#6d6384" stroke-width="0.9" />
<line x1="875.3" y1="334.6" x2="875.3" y2="329.9" stroke="#6d6384" stroke-width="0.9" />
<line x1="878.3" y1="332.9" x2="878.3" y2="328.2" stroke="#6d6384" stroke-width="0.9" />
<line x1="881.3" y1="331.3" x2="881.3" y2="326.6" stroke="#6d6384" stroke-width="0.9" />
<line x1="884.2" y1="329.6" x2="884.2" y2="324.9" stroke="#6d6384" stroke-width="0.9" />
<line x1="887.2" y1="327.9" x2="887.2" y2="323.2" stroke="#6d6384" stroke-width="0.9" />
<line x1="821.8" y1="360.1" x2="887.2" y2="323.2" stroke="#6d6384" stroke-width="1.1" />
<polygon points="821.8,364.8 887.2,327.9 894.0,332.4 828.6,369.3" fill="#f8ad20" />
<polygon points="828.6,369.3 894.0,332.4 894.0,333.4 828.6,370.3" fill="#e58f1c" />
<line x1="828.6" y1="369.3" x2="828.6" y2="364.3" stroke="#8a586a" stroke-width="0.9" />
<line x1="831.6" y1="367.6" x2="831.6" y2="362.6" stroke="#8a586a" stroke-width="0.9" />
<line x1="834.5" y1="365.9" x2="834.5" y2="360.9" stroke="#8a586a" stroke-width="0.9" />
<line x1="837.5" y1="364.3" x2="837.5" y2="359.3" stroke="#8a586a" stroke-width="0.9" />
<line x1="840.5" y1="362.6" x2="840.5" y2="357.6" stroke="#8a586a" stroke-width="0.9" />
<line x1="843.5" y1="360.9" x2="843.5" y2="355.9" stroke="#8a586a" stroke-width="0.9" />
<line x1="846.4" y1="359.2" x2="846.4" y2="354.2" stroke="#8a586a" stroke-width="0.9" />
<line x1="849.4" y1="357.6" x2="849.4" y2="352.6" stroke="#8a586a" stroke-width="0.9" />
<line x1="852.4" y1="355.9" x2="852.4" y2="350.9" stroke="#8a586a" stroke-width="0.9" />
<line x1="855.4" y1="354.2" x2="855.4" y2="349.2" stroke="#8a586a" stroke-width="0.9" />
<line x1="858.3" y1="352.5" x2="858.3" y2="347.5" stroke="#8a586a" stroke-width="0.9" />
<line x1="861.3" y1="350.9" x2="861.3" y2="345.9" stroke="#8a586a" stroke-width="0.9" />
<line x1="864.3" y1="349.2" x2="864.3" y2="344.2" stroke="#8a586a" stroke-width="0.9" />
<line x1="867.2" y1="347.5" x2="867.2" y2="342.5" stroke="#8a586a" stroke-width="0.9" />
<line x1="870.2" y1="345.8" x2="870.2" y2="340.8" stroke="#8a586a" stroke-width="0.9" />
<line x1="873.2" y1="344.1" x2="873.2" y2="339.1" stroke="#8a586a" stroke-width="0.9" />
<line x1="876.2" y1="342.5" x2="876.2" y2="337.5" stroke="#8a586a" stroke-width="0.9" />
<line x1="879.1" y1="340.8" x2="879.1" y2="335.8" stroke="#8a586a" stroke-width="0.9" />
<line x1="882.1" y1="339.1" x2="882.1" y2="334.1" stroke="#8a586a" stroke-width="0.9" />
<line x1="885.1" y1="337.4" x2="885.1" y2="332.4" stroke="#8a586a" stroke-width="0.9" />
<line x1="888.1" y1="335.8" x2="888.1" y2="330.8" stroke="#8a586a" stroke-width="0.9" />
<line x1="891.0" y1="334.1" x2="891.0" y2="329.1" stroke="#8a586a" stroke-width="0.9" />
<line x1="894.0" y1="332.4" x2="894.0" y2="327.4" stroke="#8a586a" stroke-width="0.9" />
<line x1="828.6" y1="364.3" x2="894.0" y2="327.4" stroke="#6d6384" stroke-width="1.1" />
<polygon points="816.6,366.8 821.0,364.6 827.4,368.6 823.0,370.8" fill="#f0953a" />
<polygon points="887.4,322.6 902.4,331.1 902.4,333.0 887.4,324.6" fill="#f8ad20" />
<line x1="839.4" y1="295.9" x2="839.4" y2="290.6" stroke="#8a586a" stroke-width="0.9" />
<line x1="842.6" y1="297.7" x2="842.6" y2="292.4" stroke="#8a586a" stroke-width="0.9" />
<line x1="845.8" y1="299.5" x2="845.8" y2="294.2" stroke="#8a586a" stroke-width="0.9" />
<line x1="849.0" y1="301.3" x2="849.0" y2="296.0" stroke="#8a586a" stroke-width="0.9" />
<line x1="852.1" y1="303.1" x2="852.1" y2="297.8" stroke="#8a586a" stroke-width="0.9" />
<line x1="855.3" y1="304.9" x2="855.3" y2="299.6" stroke="#8a586a" stroke-width="0.9" />
<line x1="858.5" y1="306.7" x2="858.5" y2="301.4" stroke="#8a586a" stroke-width="0.9" />
<line x1="861.7" y1="308.5" x2="861.7" y2="303.2" stroke="#8a586a" stroke-width="0.9" />
<line x1="864.9" y1="310.3" x2="864.9" y2="305.0" stroke="#8a586a" stroke-width="0.9" />
<line x1="868.1" y1="312.1" x2="868.1" y2="306.8" stroke="#8a586a" stroke-width="0.9" />
<line x1="871.3" y1="313.9" x2="871.3" y2="308.6" stroke="#8a586a" stroke-width="0.9" />
<line x1="874.5" y1="315.7" x2="874.5" y2="310.4" stroke="#8a586a" stroke-width="0.9" />
<line x1="877.6" y1="317.5" x2="877.6" y2="312.2" stroke="#8a586a" stroke-width="0.9" />
<line x1="880.8" y1="319.3" x2="880.8" y2="314.0" stroke="#8a586a" stroke-width="0.9" />
<line x1="884.0" y1="321.1" x2="884.0" y2="315.8" stroke="#8a586a" stroke-width="0.9" />
<line x1="887.2" y1="322.9" x2="887.2" y2="317.6" stroke="#8a586a" stroke-width="0.9" />
<line x1="839.4" y1="290.6" x2="887.2" y2="317.6" stroke="#6d6384" stroke-width="1.1" />
<line x1="902.4" y1="331.4" x2="902.4" y2="326.1" stroke="#8a586a" stroke-width="0.9" />
<line x1="905.6" y1="333.2" x2="905.6" y2="327.9" stroke="#8a586a" stroke-width="0.9" />
<line x1="908.8" y1="335.0" x2="908.8" y2="329.7" stroke="#8a586a" stroke-width="0.9" />
<line x1="912.0" y1="336.9" x2="912.0" y2="331.6" stroke="#8a586a" stroke-width="0.9" />
<line x1="915.3" y1="338.7" x2="915.3" y2="333.4" stroke="#8a586a" stroke-width="0.9" />
<line x1="918.5" y1="340.5" x2="918.5" y2="335.2" stroke="#8a586a" stroke-width="0.9" />
<line x1="921.7" y1="342.3" x2="921.7" y2="337.0" stroke="#8a586a" stroke-width="0.9" />
<line x1="924.9" y1="344.1" x2="924.9" y2="338.8" stroke="#8a586a" stroke-width="0.9" />
<line x1="928.1" y1="346.0" x2="928.1" y2="340.7" stroke="#8a586a" stroke-width="0.9" />
<line x1="931.3" y1="347.8" x2="931.3" y2="342.5" stroke="#8a586a" stroke-width="0.9" />
<line x1="934.5" y1="349.6" x2="934.5" y2="344.3" stroke="#8a586a" stroke-width="0.9" />
<line x1="937.7" y1="351.4" x2="937.7" y2="346.1" stroke="#8a586a" stroke-width="0.9" />
<line x1="941.0" y1="353.2" x2="941.0" y2="347.9" stroke="#8a586a" stroke-width="0.9" />
<line x1="944.2" y1="355.1" x2="944.2" y2="349.8" stroke="#8a586a" stroke-width="0.9" />
<line x1="947.4" y1="356.9" x2="947.4" y2="351.6" stroke="#8a586a" stroke-width="0.9" />
<line x1="950.6" y1="358.7" x2="950.6" y2="353.4" stroke="#8a586a" stroke-width="0.9" />
<line x1="902.4" y1="326.1" x2="950.6" y2="353.4" stroke="#6d6384" stroke-width="1.1" />
</g>
<!-- vertical rules -->
<line x1="91.55" y1="54.3" x2="91.55" y2="249.4" stroke="#1f6fb2" stroke-width="1.4"/>
<line x1="459.45" y1="54.3" x2="459.45" y2="249.4" stroke="#5a96dc" stroke-width="1.4"/>
<line x1="795.0" y1="54.3" x2="795.0" y2="249.4" stroke="#a8393a" stroke-width="1.4"/>
<line x1="284.4" y1="367.4" x2="284.4" y2="512.6" stroke="#83997a" stroke-width="1.4"/>
<line x1="630.95" y1="367.4" x2="630.95" y2="512.6" stroke="#37939d" stroke-width="1.4"/>
<!-- arrows -->
<use href="#arrowDR" x="193.1" y="260.9"/>
<use href="#arrowUR" x="384.1" y="317.2"/>
<use href="#arrowDR" x="565" y="260.9"/>
<use href="#arrowUR" x="716.3" y="317.2"/>
</svg>
<!-- headings -->
<div class="h" style="left:103.4px;top:59.6px;color:#1b69a1">15<i>.</i>07<i>.</i>2021</div>
<div class="h" style="left:471.5px;top:59.6px;color:#4a8dd3">31<i>.</i>03<i>.</i>2022</div>
<div class="h" style="left:808.3px;top:59.6px;color:#a5332f">31<i>.</i>12<i>.</i>2033</div>
<div class="h" style="left:297.5px;top:375.9px;color:#859d79">31<i>.</i>12<i>.</i>2021</div>
<div class="h" style="left:643.4px;top:375.9px;color:#2a808b">31<i>.</i>12<i>.</i>2022</div>
<!-- body text -->
<div class="t" style="left:106.6px;top:96.2px">Estados devem<br>estabelecer as<br><b>Unidades Regionais</b><br><b>de Saneamento</b><br><b>Básico.</b></div>
<div class="t" style="left:475.5px;top:96.2px">- Inclusão das metas<br>nos contratos em vigor.<br><br>- Regionalização da<br>prestação do serviço<br>público de<br>saneamento</div>
<div class="t" style="left:812.0px;top:96.2px">Metas de universalização<br>com 99% da população<br>atendida com água e<br>esgoto</div>
<div class="t" style="left:301.7px;top:412.4px">Prazo para requerimento<br>de comprovação da<br>capacidade econômico<br>financeira</div>
<div class="t" style="left:648.0px;top:412.4px">Publicação dos<br>planos de<br>saneamento básico</div>
</body>
</html>
